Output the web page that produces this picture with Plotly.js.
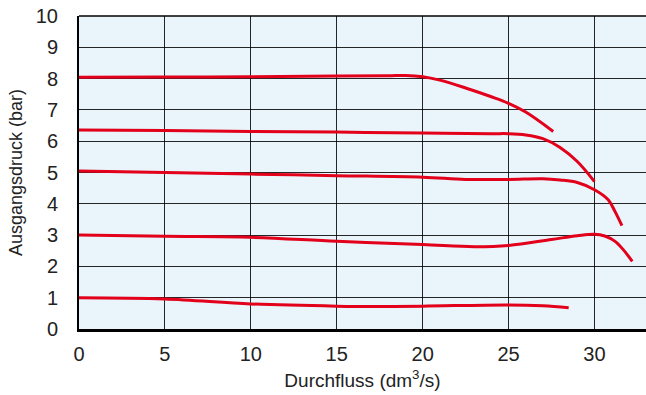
<!DOCTYPE html>
<html>
<head>
<meta charset="utf-8">
<script src="https://cdn.plot.ly/plotly-3.0.1.min.js"></script>
<style>html,body{margin:0;padding:0;background:#fff;}#chart{width:646px;height:395px;}</style>
</head>
<body>
<div id="chart"></div>
<script>
// Curve 8 bar
const flow8 = [0, 5, 10, 15, 18, 19, 20, 21, 22.5, 24, 25, 26, 27.6];
const press8 = [8.04, 8.05, 8.06, 8.08, 8.09, 8.1, 8.06, 7.95, 7.7, 7.42, 7.21, 6.93, 6.31];
// Curve 6.3 bar
const flow6 = [0, 5, 10, 15, 20, 24, 25, 26, 27, 28, 29, 30];
const press6 = [6.36, 6.34, 6.31, 6.29, 6.26, 6.24, 6.24, 6.2, 6.08, 5.8, 5.35, 4.71];
// Curve 5 bar
const flow5 = [0, 5, 10, 15, 20, 22.5, 25, 27, 28, 29, 30, 30.8, 31.2, 31.6];
const press5 = [5.05, 5.0, 4.95, 4.9, 4.85, 4.78, 4.78, 4.8, 4.76, 4.68, 4.45, 4.13, 3.75, 3.3];
// Curve 3 bar
const flow3 = [0, 5, 10, 15, 20, 23, 25, 27.5, 29, 30, 30.6, 31.2, 31.7, 32.2];
const press3 = [3.0, 2.96, 2.93, 2.8, 2.7, 2.63, 2.67, 2.86, 2.98, 3.03, 2.97, 2.8, 2.52, 2.16];
// Curve 1 bar
const flow1 = [0, 5, 10, 15, 17.5, 20, 25, 27, 28.5];
const press1 = [1.0, 0.96, 0.8, 0.73, 0.72, 0.73, 0.77, 0.74, 0.68];

const xTicks = [0, 5, 10, 15, 20, 25, 30];
const yTicks = [0, 1, 2, 3, 4, 5, 6, 7, 8, 9, 10];

const red = '#e2001a';
const series = [[flow8, press8], [flow6, press6], [flow5, press5], [flow3, press3], [flow1, press1]];
const traces = series.map(s => ({
  x: s[0], y: s[1], type: 'scatter', mode: 'lines',
  line: {color: red, width: 3, shape: 'spline', smoothing: 1},
  hoverinfo: 'skip', showlegend: false
}));

const font = {family: 'Liberation Sans, Arial, sans-serif', color: '#222222'};
const layout = {
  width: 646, height: 395,
  margin: {l: 79, r: 0, t: 16, b: 65.5},
  paper_bgcolor: '#ffffff',
  plot_bgcolor: '#e9f4fb',
  showlegend: false,
  xaxis: {
    range: [0, 33], tickvals: xTicks, ticktext: xTicks.map(String),
    showgrid: true, gridcolor: 'rgba(0,0,0,0.85)', gridwidth: 1,
    zeroline: false, showline: true, linecolor: '#000', linewidth: 3,
    ticks: '', ticklen: 0, ticklabelstandoff: 5,
    tickfont: Object.assign({size: 20}, font),
    title: {text: 'Durchfluss (dm<sup>3</sup>/s)', font: Object.assign({size: 19}, font), standoff: 10}
  },
  yaxis: {
    range: [0, 10], tickvals: yTicks, ticktext: yTicks.map(String),
    showgrid: true, gridcolor: 'rgba(0,0,0,0.85)', gridwidth: 1,
    zeroline: false, showline: true, linecolor: '#000', linewidth: 2,
    ticks: '', ticklen: 0, ticklabelstandoff: 15,
    tickfont: Object.assign({size: 20}, font),
    title: {text: 'Ausgangsdruck (bar)', font: Object.assign({size: 18}, font), standoff: 8}
  },
  shapes: [{type: 'line', xref: 'paper', yref: 'paper', x0: 0, x1: 1, y0: 1, y1: 1, line: {color: '#000', width: 1.5}}]
};
Plotly.newPlot('chart', traces, layout, {staticPlot: true, displayModeBar: false});
</script>
</body>
</html>
